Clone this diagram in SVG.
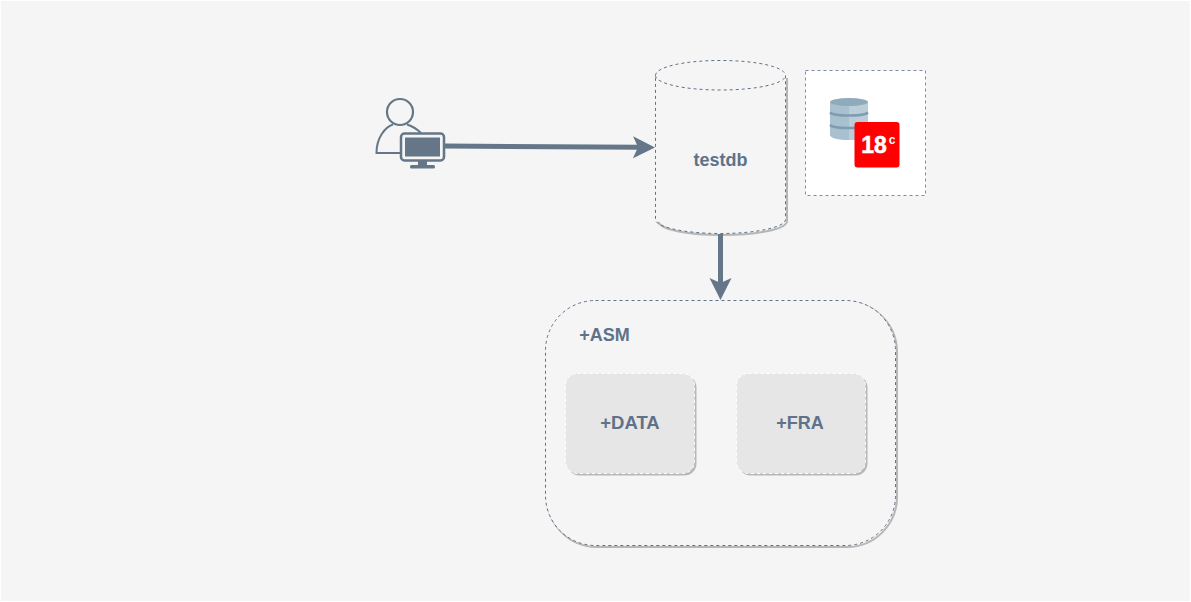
<svg xmlns="http://www.w3.org/2000/svg" width="1191" height="602" viewBox="0 0 1191 602">
<style>
text{font-family:"Liberation Sans",Arial,sans-serif;font-weight:bold;fill:#5f7289;text-anchor:middle}
.dash{stroke:#5f7289;stroke-width:1;stroke-dasharray:3 3;fill:none}
.shadow{stroke:#8c8c8c;stroke-opacity:.6;stroke-width:2;fill:none}
.wire{stroke:#647687;stroke-width:5;fill:none}
.ic{stroke:#647687;fill:none}
</style>
<defs>
<marker id="head" markerUnits="userSpaceOnUse" markerWidth="24" markerHeight="24" refX="7" refY="11" orient="auto">
<path d="M0 0L22 11L0 22L5 11Z" fill="#647687"/>
</marker>
</defs>
<rect x="0" y="0" width="1191" height="602" fill="#ffffff"/>
<rect x="1" y="1" width="1189" height="600" fill="#f5f5f5"/>
<g id="user">
<circle class="ic" cx="400" cy="112" r="13" stroke-width="2.200"/>
<path class="ic" stroke-width="2" d="M401 153H376.500C376.500 138 385 127 393 124.500M407 124.500C413 126.500 418 130 421 133"/>
<rect x="401" y="133.500" width="43" height="27" rx="3.500" fill="#f5f5f5" stroke="#647687" stroke-width="2.500"/>
<rect x="405" y="137.500" width="35" height="19" fill="#647687"/>
<rect x="418" y="161" width="9" height="4" fill="#647687"/>
<rect x="410" y="165" width="25" height="3.500" rx="1.500" fill="#647687"/>
</g>
<g id="testdb">
<path class="shadow" d="M787 78V221C787 229 758 235 722 235C688 235 662 230 658 222"/>
<path class="dash" d="M655.500 75.500C655.500 67 684 60.500 720.500 60.500C757 60.500 785.500 67 785.500 75.500V219.500C785.500 227 757 233.500 720.500 233.500C684 233.500 655.500 227 655.500 219.500Z"/>
<path class="dash" d="M655.500 75.500C655.500 83.500 684 90 720.500 90C757 90 785.500 83.500 785.500 75.500"/>
<text x="720.500" y="166" font-size="18">testdb</text>
</g>
<g id="oracle-icon">
<rect x="805.500" y="70.500" width="120" height="125" fill="#ffffff" stroke="#5f7289" stroke-opacity=".8" stroke-dasharray="3 3"/>
<path d="M830 102V135C830 138 838 140 849 140C860 140 868 138 868 135V102Z" fill="#a9c0cf"/>
<path d="M849 102H868V135C868 138 860 140 849 140Z" fill="#bacdd9"/>
<ellipse cx="849" cy="102" rx="19" ry="4" fill="#8faabb"/>
<path d="M830 112.500C834 116.500 864 116.500 868 112.500M830 125C834 129 864 129 868 125" fill="none" stroke="#7f9db0" stroke-width="2.500"/>
<rect x="854.500" y="122" width="45" height="45.500" rx="3" fill="#ff0000"/>
<text x="874" y="153" font-size="23" style="fill:#ffffff;stroke:#ffffff;stroke-width:.5">18</text>
<text x="892" y="144" font-size="12" style="fill:#ffffff">c</text>
</g>
<g id="asm">
<rect class="shadow" x="547" y="302" width="350" height="245" rx="50"/>
<rect x="545.500" y="300.500" width="350" height="245" rx="50" fill="#f5f5f5" stroke="#5f7289" stroke-dasharray="3 3"/>
<text x="604.500" y="340.500" font-size="18">+ASM</text>
</g>
<g id="data">
<rect x="567.500" y="375.500" width="129" height="100" rx="12" fill="#b8b8b8"/>
<rect x="565.500" y="373.500" width="129" height="100" rx="12" fill="#e6e6e6" stroke="#ffffff" stroke-dasharray="3 3"/>
<text x="630" y="428.500" font-size="18.500">+DATA</text>
</g>
<g id="fra">
<rect x="738.500" y="375.500" width="129" height="100" rx="12" fill="#b8b8b8"/>
<rect x="736.500" y="373.500" width="129" height="100" rx="12" fill="#e6e6e6" stroke="#ffffff" stroke-dasharray="3 3"/>
<text x="800" y="428.500" font-size="18">+FRA</text>
</g>
<g id="connectors">
<path class="wire" d="M445 146L640 147.300" marker-end="url(#head)"/>
<path class="wire" d="M720.500 234V285" marker-end="url(#head)"/>
</g>
</svg>
